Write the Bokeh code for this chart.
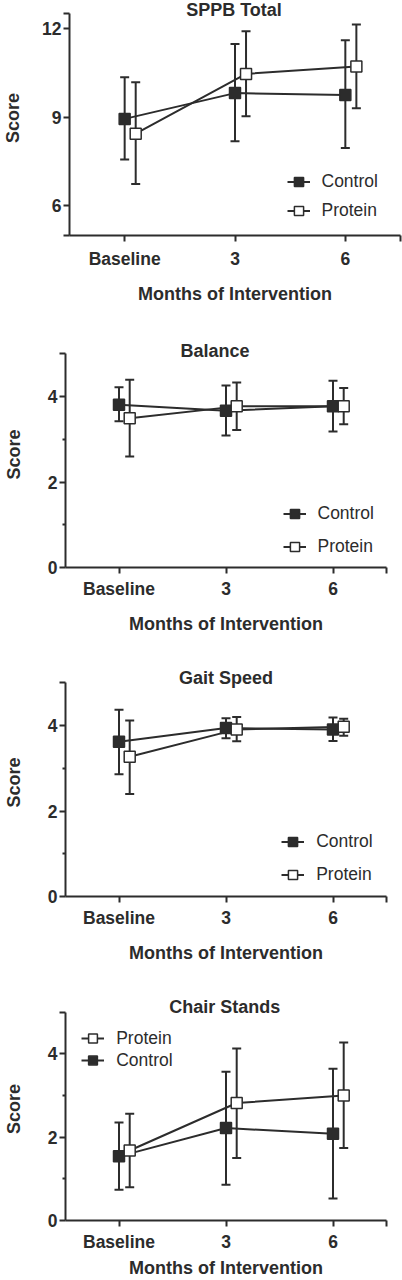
from bokeh.plotting import figure
from bokeh.models import (ColumnDataSource, Whisker, TeeHead, FixedTicker, Legend,
                          LegendItem, Range1d)
from bokeh.layouts import column
from bokeh.embed import file_html
from bokeh.resources import INLINE
from bokeh.core.properties import value

# ---------------- data ----------------
time_labels = ["Baseline", "3", "6"]
x_pos = [0, 1, 2]
protein_shift = 0.1

titles = ["SPPB Total", "Balance", "Gait Speed", "Chair Stands"]

sppb_control_mean = [8.94, 9.81, 9.75]
sppb_control_upper = [10.35, 11.47, 11.60]
sppb_control_lower = [7.57, 8.18, 7.96]
sppb_protein_mean = [8.44, 10.46, 10.71]
sppb_protein_upper = [10.18, 11.90, 12.13]
sppb_protein_lower = [6.74, 9.03, 9.30]

balance_control_mean = [3.81, 3.67, 3.77]
balance_control_upper = [4.22, 4.26, 4.37]
balance_control_lower = [3.42, 3.09, 3.18]
balance_protein_mean = [3.49, 3.77, 3.77]
balance_protein_upper = [4.39, 4.33, 4.20]
balance_protein_lower = [2.60, 3.22, 3.35]

gait_control_mean = [3.62, 3.94, 3.91]
gait_control_upper = [4.37, 4.17, 4.19]
gait_control_lower = [2.86, 3.70, 3.64]
gait_protein_mean = [3.27, 3.91, 3.97]
gait_protein_upper = [4.12, 4.20, 4.16]
gait_protein_lower = [2.40, 3.63, 3.76]

chair_control_mean = [1.54, 2.22, 2.08]
chair_control_upper = [2.35, 3.57, 3.64]
chair_control_lower = [0.74, 0.86, 0.53]
chair_protein_mean = [1.68, 2.82, 3.00]
chair_protein_upper = [2.56, 4.13, 4.27]
chair_protein_lower = [0.80, 1.50, 1.74]

INK = "#2c2c2c"
FONT = "Liberation Sans"
FS_TICK = "17.5px"
FS_TITLE = "18px"
FS_LEG = "17.5px"
FIG_W = 402


def build(title, cm, cu, cl, pm, pu, pl, y_lo, y_hi, yticks, yminor, yblank,
          fig_top, fig_h, b_left, b_right, b_top, b_bottom, axis_top_px,
          title_px_x, title_px_y, protein_first, leg_loc, leg_spacing, leg_gh,
          x_std, x_lab_std, y_lab_std):
    frame_left = b_left
    frame_w = FIG_W - b_left - b_right
    frame_top = fig_top + b_top
    frame_bottom = fig_top + fig_h - b_bottom
    xppu = frame_w / 3.0
    ppu = (frame_bottom - axis_top_px) / (y_hi - y_lo)
    y_end = y_hi + (axis_top_px - frame_top) / ppu
    tx = -0.5 + (title_px_x - frame_left) / xppu
    ty = y_hi + (axis_top_px - title_px_y) / ppu

    p = figure(width=FIG_W, height=fig_h, x_range=Range1d(-0.5, 2.5),
               y_range=Range1d(y_lo, y_end), output_backend="svg",
               toolbar_location=None, title=None,
               min_border_left=b_left, min_border_right=b_right,
               min_border_top=b_top, min_border_bottom=b_bottom)
    if "frame_align" in p.properties():
        p.frame_align = False
    p.outline_line_color = None
    p.xgrid.visible = False
    p.ygrid.visible = False
    p.background_fill_color = "white"
    p.border_fill_color = "white"

    xa = p.xaxis[0]
    ya = p.yaxis[0]
    ya.bounds = (y_lo, y_hi)
    xa.ticker = FixedTicker(ticks=x_pos + [2.5])
    ov = {x: lab for x, lab in zip(x_pos, time_labels)}
    ov[2.5] = ""
    xa.major_label_overrides = ov
    ya.ticker = FixedTicker(ticks=yticks, minor_ticks=yminor)
    ya.major_label_overrides = {t: "" for t in yblank}
    xa.axis_label = "Months of Intervention"
    ya.axis_label = "Score"
    for ax in (xa, ya):
        ax.axis_line_width = 2
        ax.axis_line_color = INK
        ax.major_tick_line_width = 2
        ax.major_tick_line_color = INK
        ax.minor_tick_line_width = 2
        ax.minor_tick_line_color = INK
        ax.major_tick_in = 0
        ax.major_tick_out = 6
        ax.minor_tick_in = 0
        ax.minor_tick_out = 3
        ax.major_label_text_font = FONT
        ax.major_label_text_font_style = "bold"
        ax.major_label_text_font_size = FS_TICK
        ax.major_label_text_color = INK
        ax.axis_label_text_font = FONT
        ax.axis_label_text_font_style = "bold"
        ax.axis_label_text_font_size = FS_TITLE
        ax.axis_label_text_color = INK
    xa.major_label_standoff = x_std
    xa.axis_label_standoff = x_lab_std
    ya.major_label_standoff = 2
    ya.axis_label_standoff = y_lab_std

    src_c = ColumnDataSource(dict(x=x_pos, mean=cm, upper=cu, lower=cl))
    src_p = ColumnDataSource(dict(x=[x + protein_shift for x in x_pos],
                                  mean=pm, upper=pu, lower=pl))
    for src in (src_c, src_p):
        p.add_layout(Whisker(base="x", upper="upper", lower="lower", source=src,
                             line_width=2, line_color=INK,
                             upper_head=TeeHead(size=9, line_width=2, line_color=INK),
                             lower_head=TeeHead(size=9, line_width=2, line_color=INK)))
    lc = p.line("x", "mean", source=src_c, line_width=2, line_color=INK)
    lp = p.line("x", "mean", source=src_p, line_width=2, line_color=INK)
    sc = p.scatter("x", "mean", source=src_c, marker="square", size=11,
                   fill_color=INK, line_color=INK, line_width=1.5)
    sp = p.scatter("x", "mean", source=src_p, marker="square", size=11,
                   fill_color="white", line_color=INK, line_width=1.5)

    p.text(x=[tx], y=[ty], text=[title], text_font=value(FONT),
           text_font_style="bold", text_font_size=FS_TITLE, text_color=INK,
           text_align="center", text_baseline="middle")

    it_c = LegendItem(label="Control", renderers=[lc, sc])
    it_p = LegendItem(label="Protein", renderers=[lp, sp])
    items = [it_p, it_c] if protein_first else [it_c, it_p]
    leg = Legend(items=items, location=leg_loc, orientation="vertical",
                 glyph_width=23, glyph_height=leg_gh, label_standoff=12,
                 spacing=leg_spacing, padding=0, margin=0,
                 border_line_color=None, background_fill_alpha=0,
                 label_text_font=FONT, label_text_font_size=FS_LEG,
                 label_text_color=INK)
    p.add_layout(leg)
    return p


p1 = build(titles[0], sppb_control_mean, sppb_control_upper, sppb_control_lower,
           sppb_protein_mean, sppb_protein_upper, sppb_protein_lower,
           5, 12.5, [5, 6, 9, 12, 12.5], [], [5, 12.5],
           fig_top=0, fig_h=320, b_left=68, b_right=2, b_top=0, b_bottom=85,
           axis_top_px=13, title_px_x=233, title_px_y=9.5, protein_first=False,
           leg_loc=(217.5, 11.8), leg_spacing=4, leg_gh=25,
           x_std=7, x_lab_std=12, y_lab_std=16)

p2 = build(titles[1], balance_control_mean, balance_control_upper, balance_control_lower,
           balance_protein_mean, balance_protein_upper, balance_protein_lower,
           0, 5, [0, 2, 4, 5], [1, 3], [5],
           fig_top=320, fig_h=325, b_left=63, b_right=16, b_top=21, b_bottom=78,
           axis_top_px=353.3, title_px_x=213.5, title_px_y=350.7, protein_first=False,
           leg_loc=(217.5, 7.8), leg_spacing=8, leg_gh=25,
           x_std=5, x_lab_std=12, y_lab_std=21)

p3 = build(titles[2], gait_control_mean, gait_control_upper, gait_control_lower,
           gait_protein_mean, gait_protein_upper, gait_protein_lower,
           0, 5, [0, 2, 4, 5], [1, 3], [5],
           fig_top=645, fig_h=325, b_left=63, b_right=16, b_top=23, b_bottom=74,
           axis_top_px=682.3, title_px_x=224.5, title_px_y=677.3, protein_first=False,
           leg_loc=(216.2, 9.2), leg_spacing=8, leg_gh=25,
           x_std=5, x_lab_std=12, y_lab_std=21)

p4 = build(titles[3], chair_control_mean, chair_control_upper, chair_control_lower,
           chair_protein_mean, chair_protein_upper, chair_protein_lower,
           0, 5, [0, 2, 4, 5], [1, 3], [5],
           fig_top=970, fig_h=310, b_left=63, b_right=16, b_top=27, b_bottom=60,
           axis_top_px=1011.7, title_px_x=223.3, title_px_y=1006.7, protein_first=True,
           leg_loc=(16.2, 149), leg_spacing=0, leg_gh=22,
           x_std=5, x_lab_std=3, y_lab_std=21)

layout = column(p1, p2, p3, p4, spacing=0)
open("out.html", "w").write(file_html(layout, INLINE))
